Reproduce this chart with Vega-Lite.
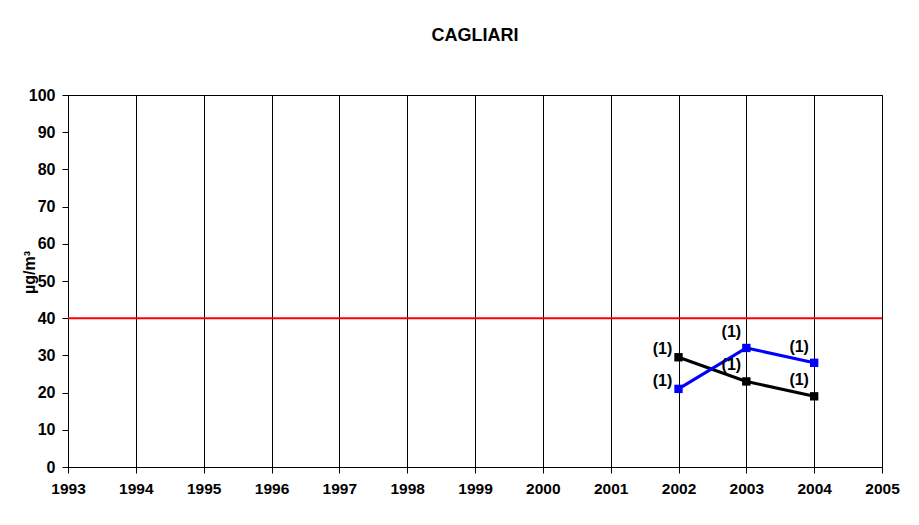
{
  "$schema": "https://vega.github.io/schema/vega-lite/v6.json",
  "autosize": "none",
  "width": 814,
  "height": 372,
  "padding": {"left": 68, "top": 95, "right": 37, "bottom": 58},
  "background": "white",
  "config": {
    "font": "Liberation Sans",
    "view": {"stroke": "#000000", "strokeWidth": 1}
  },
  "title": {
    "text": "CAGLIARI",
    "fontSize": 18,
    "fontWeight": "bold",
    "font": "Liberation Sans",
    "color": "#000000",
    "anchor": "middle",
    "offset": 42
  },
  "datasets": {
    "series": [
      {"year": 2002, "series": "s1", "value": 29.5, "label": "(1)"},
      {"year": 2003, "series": "s1", "value": 23, "label": "(1)"},
      {"year": 2004, "series": "s1", "value": 19, "label": "(1)"},
      {"year": 2002, "series": "s2", "value": 21, "label": "(1)"},
      {"year": 2003, "series": "s2", "value": 32, "label": "(1)"},
      {"year": 2004, "series": "s2", "value": 28, "label": "(1)"}
    ],
    "limit": [{"limit": 40}]
  },
  "layer": [
    {
      "data": {"name": "series"},
      "mark": {"type": "line", "strokeWidth": 3},
      "encoding": {
        "x": {
          "field": "year", "type": "quantitative",
          "scale": {"domain": [1993, 2005], "nice": false, "zero": false},
          "axis": {
            "title": null, "tickCount": 12, "format": "d",
            "grid": true, "gridColor": "#000000", "gridOpacity": 1, "gridWidth": 1,
            "domainColor": "#000000", "tickColor": "#000000", "tickSize": 6,
            "labelFont": "Liberation Sans", "labelFontWeight": "bold", "labelFontSize": 15.5,
            "labelColor": "#000000", "labelPadding": 8, "labelFlush": false, "labelOverlap": false
          }
        },
        "y": {
          "field": "value", "type": "quantitative",
          "scale": {"domain": [0, 100], "nice": false},
          "axis": {
            "title": "µg/m³", "tickCount": 10,
            "grid": false, "domainColor": "#000000", "tickColor": "#000000", "tickSize": 6,
            "labelFont": "Liberation Sans", "labelFontWeight": "bold", "labelFontSize": 16,
            "labelColor": "#000000", "labelPadding": 7, "labelOverlap": false, "labelBound": false,
            "titleFont": "Liberation Sans", "titleFontWeight": "bold", "titleFontSize": 16,
            "titleColor": "#000000", "titleX": -39, "titleY": 177, "titleBaseline": "middle", "titleAngle": -90
          }
        },
        "color": {
          "field": "series", "type": "nominal",
          "scale": {"domain": ["s1", "s2"], "range": ["#000000", "#0000ff"]},
          "legend": null
        }
      }
    },
    {
      "data": {"name": "limit"},
      "mark": {"type": "rule", "color": "#ff0000", "strokeWidth": 2},
      "encoding": {
        "y": {"field": "limit", "type": "quantitative"}
      }
    },
    {
      "data": {"name": "series"},
      "mark": {"type": "square", "size": 70, "opacity": 1, "filled": true},
      "encoding": {
        "x": {"field": "year", "type": "quantitative"},
        "y": {"field": "value", "type": "quantitative"},
        "color": {"field": "series", "type": "nominal", "legend": null}
      }
    },
    {
      "data": {"name": "series"},
      "transform": [{"filter": "datum.year == 2002"}],
      "mark": {"type": "text", "dx": -16, "dy": -8, "fontSize": 16, "fontWeight": "bold", "font": "Liberation Sans", "color": "#000000"},
      "encoding": {
        "x": {"field": "year", "type": "quantitative"},
        "y": {"field": "value", "type": "quantitative"},
        "text": {"field": "label"}
      }
    },
    {
      "data": {"name": "series"},
      "transform": [{"filter": "datum.year != 2002"}],
      "mark": {"type": "text", "dx": -15, "dy": -16, "fontSize": 16, "fontWeight": "bold", "font": "Liberation Sans", "color": "#000000"},
      "encoding": {
        "x": {"field": "year", "type": "quantitative"},
        "y": {"field": "value", "type": "quantitative"},
        "text": {"field": "label"}
      }
    }
  ]
}
